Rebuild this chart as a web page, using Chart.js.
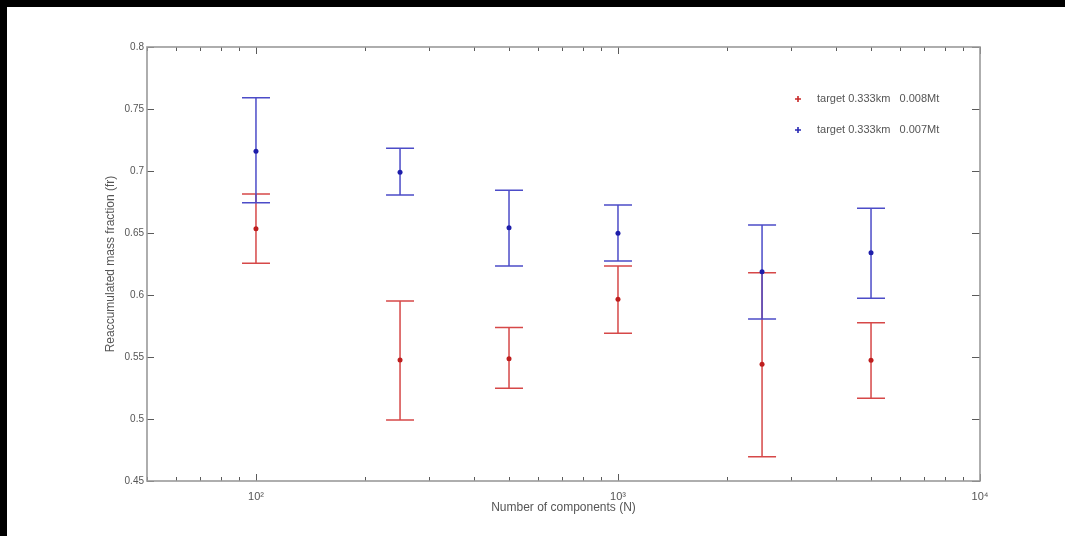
<!DOCTYPE html>
<html><head><meta charset="utf-8">
<script src="https://cdn.jsdelivr.net/npm/chart.js@4"></script>
<style>
html,body{margin:0;padding:0;background:#000;width:1065px;height:536px;overflow:hidden;}
#wrap{position:absolute;left:7px;top:7px;width:1058px;height:529px;background:#fff;}
canvas{display:block;}
</style></head><body>
<div id="wrap"><canvas id="c" width="1058" height="529"></canvas></div>
<script>
const components = [100, 250, 500, 1000, 2500, 5000];
const redMean  = [0.6535, 0.5476, 0.5486, 0.5965, 0.5441, 0.5473];
const redLow   = [0.6256, 0.4992, 0.5248, 0.5691, 0.4696, 0.5167];
const redHigh  = [0.6815, 0.5952, 0.5737, 0.6234, 0.6180, 0.5777];
const blueMean = [0.7160, 0.6990, 0.6543, 0.6497, 0.6188, 0.6341];
const blueLow  = [0.6744, 0.6806, 0.6234, 0.6274, 0.5806, 0.5973];
const blueHigh = [0.7590, 0.7183, 0.6844, 0.6726, 0.6565, 0.6699];
const seriesLabels = ['target 0.333km   0.008Mt', 'target 0.333km   0.007Mt'];
const yTickValues = [0.45, 0.5, 0.55, 0.6, 0.65, 0.7, 0.75, 0.8];
const yTickLabels = ['0.45', '0.5', '0.55', '0.6', '0.65', '0.7', '0.75', '0.8'];
const xTickValues = [100, 1000, 10000];
const xTickLabels = ['10²', '10³', '10⁴'];
const xTitle = 'Number of components (N)';
const yTitle = 'Reaccumulated mass fraction (fr)';

Chart.defaults.font.family = "'Liberation Sans', Arial, sans-serif";
Chart.defaults.color = '#555';

const toPts = (xs, ys) => xs.map((v, i) => ({x: v, y: ys[i]}));

const errorBars = {
  id: 'errorBars',
  beforeDatasetsDraw(chart) {
    const {ctx, scales: {x, y}} = chart;
    chart.data.datasets.forEach(ds => {
      ctx.save();
      ctx.strokeStyle = ds.barColor;
      ctx.lineWidth = 1.5;
      ds.data.forEach((p, i) => {
        const px = x.getPixelForValue(p.x);
        const yl = y.getPixelForValue(ds.errLow[i]);
        const yh = y.getPixelForValue(ds.errHigh[i]);
        ctx.beginPath();
        ctx.moveTo(px, yl); ctx.lineTo(px, yh);
        ctx.moveTo(px - 14, yl); ctx.lineTo(px + 14, yl);
        ctx.moveTo(px - 14, yh); ctx.lineTo(px + 14, yh);
        ctx.stroke();
      });
      ctx.restore();
    });
  }
};

const frame = {
  id: 'frame',
  beforeDatasetsDraw(chart) {
    const {ctx, chartArea: a, scales: {x, y}} = chart;
    ctx.save();
    ctx.strokeStyle = '#5a5a5a';
    ctx.lineWidth = 1;
    ctx.beginPath();
    yTickValues.forEach(v => {
      const py = Math.round(y.getPixelForValue(v)) + 0.5;
      ctx.moveTo(a.left, py); ctx.lineTo(a.left + 7, py);
      ctx.moveTo(a.right, py); ctx.lineTo(a.right - 8, py);
    });
    for (let d = 10; d <= 1000; d *= 10) {
      for (let m = 1; m <= 10; m++) {
        const v = m * d;
        if (v < 50 || v > 10000) continue;
        const major = (m === 1 || m === 10);
        const len = major ? 7 : 4;
        const px = Math.round(x.getPixelForValue(v)) + 0.5;
        ctx.moveTo(px, a.bottom); ctx.lineTo(px, a.bottom - len);
        ctx.moveTo(px, a.top); ctx.lineTo(px, a.top + len);
      }
    }
    ctx.stroke();
    ctx.strokeStyle = '#9a9a9a';
    ctx.lineWidth = 1.6;
    ctx.strokeRect(a.left, a.top, a.right - a.left, a.bottom - a.top);
    ctx.restore();
  },
  afterDraw(chart) {
    const {ctx} = chart;
    ctx.save();
    ctx.font = "11px 'Liberation Sans', Arial, sans-serif";
    ctx.textBaseline = 'middle';
    chart.data.datasets.forEach((ds, i) => {
      const mx = 791, my = 92 + i * 31;
      ctx.strokeStyle = ds.pointBorderColor;
      ctx.lineWidth = 1.6;
      ctx.beginPath();
      ctx.moveTo(mx - 3, my); ctx.lineTo(mx + 3, my);
      ctx.moveTo(mx, my - 3); ctx.lineTo(mx, my + 3);
      ctx.stroke();
      ctx.fillStyle = '#555';
      ctx.fillText(ds.label, 810, my);
    });
    ctx.restore();
  }
};

new Chart(document.getElementById('c'), {
  type: 'scatter',
  data: {
    datasets: [
      {
        label: seriesLabels[0],
        data: toPts(components, redMean),
        errLow: redLow, errHigh: redHigh,
        barColor: 'rgb(214,72,72)',
        pointBackgroundColor: 'rgb(190,30,30)',
        pointBorderColor: 'rgb(200,40,40)',
        pointStyle: 'circle', pointRadius: 2.5, borderWidth: 0
      },
      {
        label: seriesLabels[1],
        data: toPts(components, blueMean),
        errLow: blueLow, errHigh: blueHigh,
        barColor: 'rgb(76,76,200)',
        pointBackgroundColor: 'rgb(30,30,170)',
        pointBorderColor: 'rgb(40,40,180)',
        pointStyle: 'circle', pointRadius: 2.5, borderWidth: 0
      }
    ]
  },
  options: {
    responsive: false,
    animation: false,
    devicePixelRatio: 1,
    layout: {padding: {left: 0, top: 40, right: 85, bottom: 0}},
    plugins: {legend: {display: false}, tooltip: {enabled: false}},
    scales: {
      x: {
        type: 'logarithmic', min: 50, max: 10000,
        afterBuildTicks: s => { s.ticks = xTickValues.map(v => ({value: v, major: true})); },
        afterFit: s => { s.height = 55; },
        ticks: {
          autoSkip: false, maxRotation: 0, padding: 9,
          font: {size: 11}, color: '#555',
          callback: (v, i) => xTickLabels[i]
        },
        grid: {display: false, drawTicks: false},
        border: {display: false},
        title: {display: true, text: xTitle, color: '#555', font: {size: 12}, padding: {top: 0, bottom: 21}}
      },
      y: {
        type: 'linear', min: 0.45, max: 0.8,
        afterBuildTicks: s => { s.ticks = yTickValues.map(v => ({value: v})); },
        afterFit: s => { s.width = 140; },
        ticks: {
          autoSkip: false, padding: 3,
          font: {size: 10}, color: '#555',
          callback: (v, i) => yTickLabels[i]
        },
        grid: {display: false, drawTicks: false},
        border: {display: false},
        title: {display: true, text: yTitle, color: '#555', font: {size: 12}, padding: {top: 96, bottom: 0}}
      }
    }
  },
  plugins: [frame, errorBars]
});
</script>
</body></html>
